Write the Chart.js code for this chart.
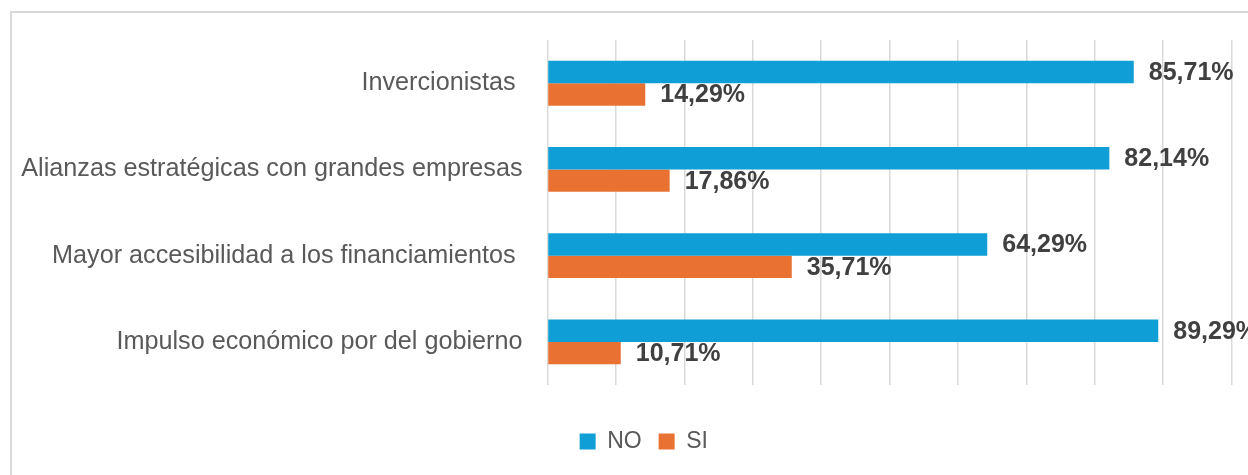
<!DOCTYPE html>
<html>
<head>
<meta charset="utf-8">
<script src="https://cdn.jsdelivr.net/npm/chart.js@4.4.1/dist/chart.umd.min.js"></script>
<style>
  html, body { margin: 0; padding: 0; background: #fff; overflow: hidden; width: 1248px; height: 475px; }
  #frame { position: absolute; left: 10px; top: 11px; width: 1300px; height: 520px; border: 2px solid #d9d9d9; box-sizing: border-box; }
  #chart { position: absolute; left: 0; top: 0; }
</style>
</head>
<body>
<div id="frame"></div>
<canvas id="chart" width="1248" height="500"></canvas>
<script>
// Data
const categories = [
  "Invercionistas ",
  "Alianzas estratégicas con grandes empresas",
  "Mayor accesibilidad a los financiamientos ",
  "Impulso económico por del gobierno"
];
const noValues = [85.71, 82.14, 64.29, 89.29];
const siValues = [14.29, 17.86, 35.71, 10.71];
const seriesNames = ["NO", "SI"];

const FONT = "'Liberation Sans', Arial, sans-serif";

// Draw the value labels at the end of each bar
const valueLabels = {
  id: "valueLabels",
  afterDatasetsDraw(chart) {
    const ctx = chart.ctx;
    ctx.save();
    ctx.font = "bold 25px " + FONT;
    ctx.fillStyle = "#404040";
    ctx.textAlign = "left";
    ctx.textBaseline = "middle";
    chart.data.datasets.forEach((ds, i) => {
      const meta = chart.getDatasetMeta(i);
      meta.data.forEach((bar, j) => {
        const text = ds.data[j].toFixed(2).replace(".", ",") + "%";
        ctx.fillText(text, bar.x + 15, bar.y + 1);
      });
    });
    ctx.restore();
  }
};

// The real chart frame is wider than the picture, so centre the legend on it
const legendShift = {
  id: "legendShift",
  afterLayout(chart) {
    chart.legend.left += 28;
    chart.legend.right += 28;
  }
};

const ctx = document.getElementById("chart").getContext("2d");
new Chart(ctx, {
  type: "bar",
  data: {
    labels: categories,
    datasets: [
      {
        label: seriesNames[0],
        data: noValues,
        backgroundColor: "#0F9ED5",
        categoryPercentage: 0.52,
        barPercentage: 1.0
      },
      {
        label: seriesNames[1],
        data: siValues,
        backgroundColor: "#E97132",
        categoryPercentage: 0.52,
        barPercentage: 1.0
      }
    ]
  },
  options: {
    indexAxis: "y",
    responsive: false,
    animation: false,
    layout: {
      padding: { left: 0, right: 16.5, top: 40, bottom: 37 }
    },
    scales: {
      x: {
        min: 0,
        max: 100,
        ticks: { display: false, stepSize: 10 },
        grid: { color: "#d9d9d9", lineWidth: 1.5, drawTicks: false },
        border: { display: false },
        afterFit(scale) { scale.height = 28; }
      },
      y: {
        ticks: {
          color: "#595959",
          font: { family: FONT, size: 25.2 },
          padding: 25
        },
        grid: { display: false, drawTicks: false },
        border: { display: false },
        afterFit(scale) { scale.width = 547.5; }
      }
    },
    plugins: {
      legend: {
        position: "bottom",
        labels: {
          color: "#595959",
          font: { family: FONT, size: 23 },
          boxWidth: 16,
          boxHeight: 16,
          padding: 17
        }
      },
      tooltip: { enabled: false }
    }
  },
  plugins: [valueLabels, legendShift]
});
</script>
</body>
</html>
